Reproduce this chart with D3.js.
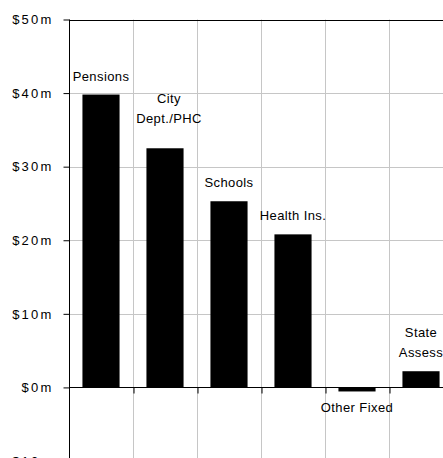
<!DOCTYPE html>
<html>
<head>
  <title>Fixed Costs</title>
  <script src="https://cdn.jsdelivr.net/npm/d3@7"></script>
  <style>
    body { margin: 0; background: #fff; }
    text { font-family: "Liberation Sans", Arial, sans-serif; fill: #000; }
  </style>
</head>
<body>
<div id="chart"></div>
<script>
  // data ($ millions)
  var categories = ["Pensions", "City Dept./PHC", "Schools", "Health Ins.", "Other Fixed", "State Assess"];
  var labelLines = [["Pensions"], ["City", "Dept./PHC"], ["Schools"], ["Health Ins."], ["Other Fixed"], ["State", "Assess"]];
  var values = [39.8, 32.5, 25.3, 20.8, -0.55, 2.2];
  var yTicks = [-10, 0, 10, 20, 30, 40, 50];
  var yTickLabels = ["$10m", "$0m", "$10m", "$20m", "$30m", "$40m", "$50m"];

  var wid = 443;
  var high = 458;
  var plotLeft = 69, plotRight = 453, plotTop = 19.5, plotBottom = 461;

  var svg = d3.select("#chart")
    .append("svg")
    .attr("width", wid)
    .attr("height", high);

  var ax = d3.scaleBand()
    .domain(categories)
    .range([plotLeft, plotRight])
    .paddingInner(0.42)
    .paddingOuter(0.21);

  var ay = d3.scaleLinear()
    .domain([-10, 50])
    .range([plotBottom, plotTop]);

  var step = ax.step();

  // horizontal gridlines
  svg.selectAll(".hgrid")
    .data(yTicks.filter(function(t) { return t != 0 && t != 50; }))
    .enter()
    .append("line")
    .attr("class", "hgrid")
    .attr("x1", plotLeft).attr("x2", plotRight)
    .attr("y1", function(t) { return Math.round(ay(t)) + 0.5; })
    .attr("y2", function(t) { return Math.round(ay(t)) + 0.5; })
    .attr("stroke", "#c6c6c6")
    .attr("stroke-width", 1);

  // vertical gridlines at category boundaries
  svg.selectAll(".vgrid")
    .data(d3.range(1, categories.length))
    .enter()
    .append("line")
    .attr("class", "vgrid")
    .attr("x1", function(i) { return Math.round(plotLeft + i * step) + 0.5; })
    .attr("x2", function(i) { return Math.round(plotLeft + i * step) + 0.5; })
    .attr("y1", plotTop).attr("y2", plotBottom)
    .attr("stroke", "#c6c6c6")
    .attr("stroke-width", 1);

  // bars
  svg.selectAll(".bar")
    .data(values)
    .enter()
    .append("rect")
    .attr("class", "bar")
    .attr("x", function(v, i) { return ax(categories[i]); })
    .attr("y", function(v) { return ay(Math.max(0, v)); })
    .attr("width", ax.bandwidth())
    .attr("height", function(v) { return Math.abs(ay(v) - ay(0)); })
    .attr("fill", "#000");

  // top border
  svg.append("line")
    .attr("x1", plotLeft).attr("x2", wid)
    .attr("y1", Math.round(ay(50)) + 0.5).attr("y2", Math.round(ay(50)) + 0.5)
    .attr("stroke", "#000");

  // y axis
  var yaxis = d3.axisLeft(ay)
    .tickValues(yTicks)
    .tickSize(6)
    .tickPadding(10)
    .tickFormat(function(t, i) { return yTickLabels[i]; });

  var gy = svg.append("g")
    .attr("transform", translate(plotLeft + 0.5, 0))
    .call(yaxis);
  gy.select(".domain").remove();
  gy.append("line")
    .attr("x1", 0).attr("x2", 0)
    .attr("y1", plotTop).attr("y2", high)
    .attr("stroke", "#000");
  gy.selectAll(".tick line").attr("stroke", "#000");
  gy.selectAll(".tick text")
    .attr("font-size", 13)
    .attr("letter-spacing", 2.2)
    .attr("font-family", "Liberation Sans, Arial, sans-serif")
    .attr("fill", "#000");

  // x axis at zero
  var xaxis = d3.axisBottom(d3.scaleLinear().domain([0, categories.length]).range([plotLeft, plotRight]))
    .tickValues(d3.range(1, categories.length))
    .tickSize(6)
    .tickFormat("");

  var gx = svg.append("g")
    .attr("transform", translate(0.5, Math.round(ay(0)) + 0.5))
    .call(xaxis);
  gx.select(".domain").remove();
  gx.selectAll(".tick line").attr("stroke", "#000");
  gx.append("line")
    .attr("x1", plotLeft).attr("x2", wid)
    .attr("stroke", "#000");

  // category labels
  var labelDy = [0, 11, 0, 0, 0, 0];
  svg.selectAll(".label")
    .data(values)
    .enter()
    .append("text")
    .attr("class", "label")
    .attr("text-anchor", "middle")
    .attr("font-size", 13)
    .attr("letter-spacing", 0.4)
    .each(function(v, i) {
      var lines = labelLines[i];
      var cx = ax(categories[i]) + ax.bandwidth() / 2 + (i == 1 ? 4 : 0);
      var el = d3.select(this);
      lines.forEach(function(line, j) {
        var y;
        if (v < 0) {
          y = ay(v) + 21 + j * 20;
        } else {
          y = ay(v) - 14 - labelDy[i] - (lines.length - 1 - j) * 20;
        }
        el.append("tspan")
          .attr("x", cx)
          .attr("y", y)
          .text(line);
      });
    });

  function translate(x, y) {
    return "translate(" + x + "," + y + ")";
  }
</script>
</body>
</html>
